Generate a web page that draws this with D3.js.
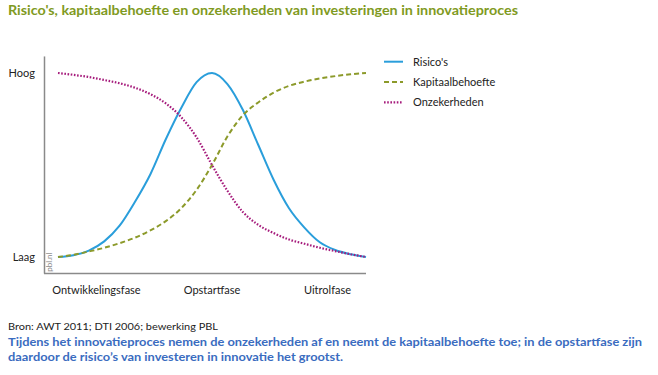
<!DOCTYPE html>
<html>
<head>
<meta charset="utf-8">
<script src="https://cdn.jsdelivr.net/npm/d3@7"></script>
<style>
  body { margin: 0; background: #fff; }
  svg { display: block; font-family: Lato, "Open Sans", sans-serif; }
</style>
</head>
<body>
<svg id="chart" width="658" height="375"></svg>
<script>
// fase-positie (0..100) langs het innovatieproces
let xs = [0, 5, 10, 15, 20, 25, 30, 35, 40, 45, 50, 55, 60, 65, 70, 75, 80, 85, 90, 95, 100];
// relatief niveau, 0 = laag, 1 = hoog
let risicos = [0, 0.01, 0.035, 0.085, 0.17, 0.3, 0.45, 0.64, 0.81, 0.95, 1.0, 0.94, 0.8, 0.61, 0.42, 0.265, 0.16, 0.08, 0.038, 0.015, 0];
let kapitaal = [0, 0.012, 0.03, 0.05, 0.075, 0.105, 0.145, 0.195, 0.265, 0.365, 0.5, 0.655, 0.77, 0.84, 0.893, 0.93, 0.953, 0.97, 0.983, 0.993, 1.0];
let onzeker = [1.0, 0.99, 0.978, 0.962, 0.944, 0.92, 0.885, 0.835, 0.76, 0.65, 0.5, 0.36, 0.245, 0.175, 0.13, 0.095, 0.072, 0.05, 0.032, 0.015, 0];
let fases = ['Ontwikkelingsfase', 'Opstartfase', 'Uitrolfase'];
let fasePos = [12.5, 50, 87.5];
let niveaus = ['Laag', 'Hoog'];
let seriesNames = ["Risico's", 'Kapitaalbehoefte', 'Onzekerheden'];

let svg = d3.select('#chart');

let x = d3.scaleLinear().domain([0, 100]).range([58, 366]);
let y = d3.scaleLinear().domain([0, 1]).range([257, 73]);

let series = [
    {name: seriesNames[0], values: risicos, color: '#2a9edb', dash: null, width: 2},
    {name: seriesNames[1], values: kapitaal, color: '#8c9a2a', dash: '5,3', width: 2},
    {name: seriesNames[2], values: onzeker, color: '#a61c7c', dash: '1.6,1.6', width: 2.2}
];

// titel
svg.append('text')
    .attr('x', 8).attr('y', 15)
    .attr('fill', '#7f9a22')
    .attr('font-size', 14).attr('font-weight', 'bold')
    .attr('textLength', 510).attr('lengthAdjust', 'spacingAndGlyphs')
    .text("Risico's, kapitaalbehoefte en onzekerheden van investeringen in innovatieproces");

// assen
svg.append('line')
    .attr('x1', 44.5).attr('x2', 44.5)
    .attr('y1', y(1.09)).attr('y2', y(-0.09))
    .attr('stroke', '#8a8a8a').attr('stroke-width', 1.5);
svg.append('line')
    .attr('x1', 44).attr('x2', x(100))
    .attr('y1', y(-0.09)).attr('y2', y(-0.09))
    .attr('stroke', '#8a8a8a').attr('stroke-width', 1.5);

svg.append('text')
    .attr('transform', `translate(52, ${y(-0.08)}) rotate(-90)`)
    .attr('fill', '#8a8a8a').attr('font-size', 8)
    .text('pbl.nl');

svg.append('g').selectAll('text')
    .data(niveaus)
    .join('text')
    .attr('x', 35)
    .attr('y', (d, i) => y(i))
    .attr('dy', '0.35em')
    .attr('text-anchor', 'end')
    .attr('font-size', 11).attr('fill', '#222')
    .text(d => d);

svg.append('g').selectAll('text')
    .data(fases)
    .join('text')
    .attr('x', (d, i) => x(fasePos[i]))
    .attr('y', 294)
    .attr('text-anchor', 'middle')
    .attr('font-size', 11).attr('fill', '#222')
    .text(d => d);

// lijnen
let line = d3.line()
    .x((d, i) => x(xs[i]))
    .y(d => y(d))
    .curve(d3.curveMonotoneX);

svg.append('g').selectAll('path')
    .data(series)
    .join('path')
    .attr('d', d => line(d.values))
    .attr('fill', 'none')
    .attr('stroke', d => d.color)
    .attr('stroke-width', d => d.width)
    .attr('stroke-dasharray', d => d.dash);

// legenda
let legend = svg.append('g').selectAll('g')
    .data(series)
    .join('g')
    .attr('transform', (d, i) => `translate(384, ${61.7 + i * 20.3})`);
legend.append('line')
    .attr('x1', 0).attr('x2', 19)
    .attr('stroke', d => d.color)
    .attr('stroke-width', d => d.width)
    .attr('stroke-dasharray', d => d.dash);
legend.append('text')
    .attr('x', 29).attr('dy', '0.35em')
    .attr('font-size', 11).attr('fill', '#222')
    .text(d => d.name);

// bron en toelichting
svg.append('text')
    .attr('x', 8).attr('y', 330)
    .attr('font-size', 10).attr('fill', '#222')
    .attr('textLength', 210).attr('lengthAdjust', 'spacingAndGlyphs')
    .text('Bron: AWT 2011; DTI 2006; bewerking PBL');
svg.append('text')
    .attr('x', 8).attr('y', 345.5)
    .attr('font-size', 12).attr('font-weight', 'bold').attr('fill', '#3a6cc0')
    .attr('textLength', 634).attr('lengthAdjust', 'spacingAndGlyphs')
    .text('Tijdens het innovatieproces nemen de onzekerheden af en neemt de kapitaalbehoefte toe; in de opstartfase zijn');
svg.append('text')
    .attr('x', 8).attr('y', 361)
    .attr('font-size', 12).attr('font-weight', 'bold').attr('fill', '#3a6cc0')
    .attr('textLength', 335).attr('lengthAdjust', 'spacingAndGlyphs')
    .text('daardoor de risico\u2019s van investeren in innovatie het grootst.');
</script>
</body>
</html>
